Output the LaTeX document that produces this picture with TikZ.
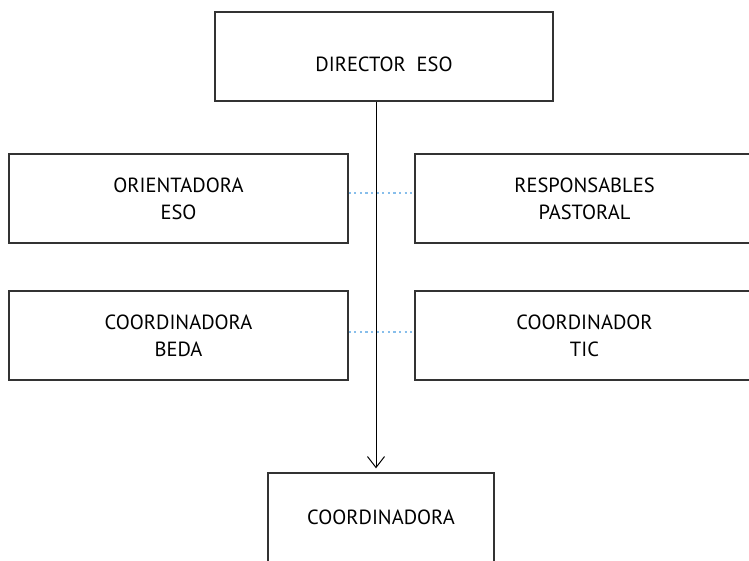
\documentclass[tikz,border=0pt]{standalone}
\usepackage{fontspec}
\setmainfont{PT Sans}
\usetikzlibrary{arrows.meta}
\definecolor{dotblue}{RGB}{135,190,235}

\begin{document}
\begin{tikzpicture}[x=1pt,y=-1pt,
  box/.style={draw=black!80,line width=1.3pt,minimum height=89pt,inner sep=0pt,align=center,font=\fontsize{20.5}{27}\selectfont},
  dotline/.style={dotblue,line width=2.4pt,dash pattern=on 2.2pt off 3.4pt}]
  \path[use as bounding box,clip] (0,0) rectangle (749,560);

  \node[box,minimum width=338pt,text height=29pt,text depth=0pt] (dir) at (384,56.5) {DIRECTOR\ \ ESO};
  \foreach \n/\x/\y/\t in {ori/178.5/198.5/{ORIENTADORA\\ESO},resp/584.5/198.5/{RESPONSABLES\\PASTORAL},
    beda/178.5/335.5/{COORDINADORA\\BEDA},tic/584.5/335.5/{COORDINADOR\\TIC}} {
    \node[box,minimum width=339pt] (\n) at (\x,\y) {\t};}
  \node[box,minimum width=226pt] (coord) at (381,517.5) {COORDINADORA};

  \draw[dotline] ([yshift=5.5pt]ori.east) -- ([yshift=5.5pt]resp.west);
  \draw[dotline] ([yshift=3.5pt]beda.east) -- ([yshift=3.5pt]tic.west);
  \draw[-{Straight Barb[length=11pt,width=17pt]},line width=1pt,shorten >=4pt] ([xshift=-8pt]dir.south) -- ([xshift=-5pt]coord.north);
\end{tikzpicture}
\end{document}
